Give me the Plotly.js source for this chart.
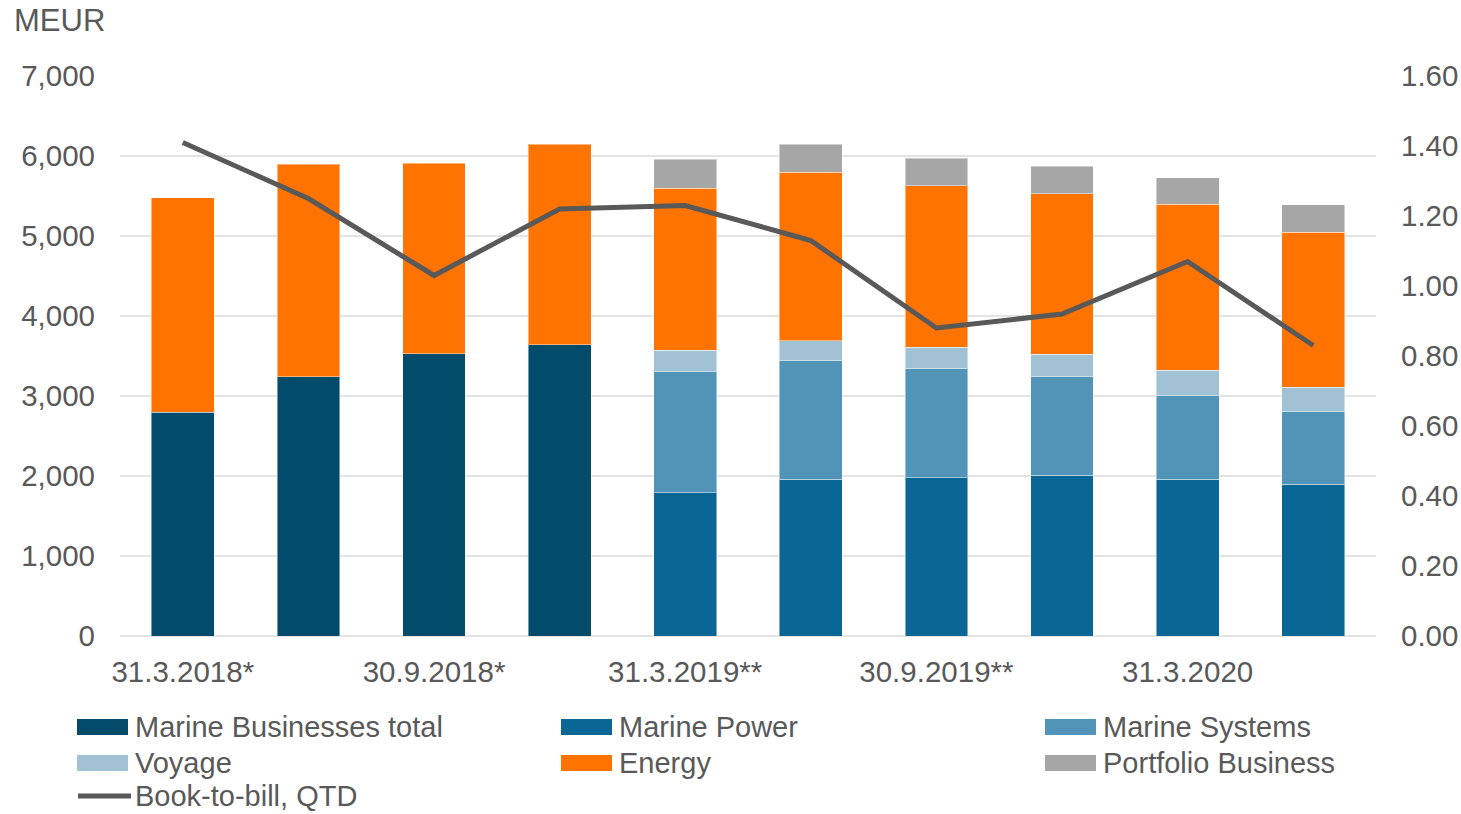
<!DOCTYPE html>
<html>
<head>
<meta charset="utf-8">
<script src="https://cdn.plot.ly/plotly-3.0.1.min.js"></script>
<style>
  html, body { margin: 0; padding: 0; background: #fff; }
  #chart { width: 1461px; height: 814px; }
</style>
</head>
<body>
<div id="chart"></div>
<script>
// Order intake by quarter (MEUR) and book-to-bill ratio
const quarters = ["31.3.2018*", "30.6.2018*", "30.9.2018*", "31.12.2018*", "31.3.2019**",
                  "30.6.2019**", "30.9.2019**", "31.12.2019", "31.3.2020", "30.6.2020"];
const labelledQuarters = ["31.3.2018*", "30.9.2018*", "31.3.2019**", "30.9.2019**", "31.3.2020"];

const marineTotal   = [2800, 3240, 3530, 3640, null, null, null, null, null, null];
const marinePower   = [null, null, null, null, 1790, 1960, 1980, 2010, 1960, 1900];
const marineSystems = [null, null, null, null, 1520, 1480, 1370, 1230, 1050, 910];
const voyage        = [null, null, null, null, 260, 250, 260, 280, 310, 300];
const energy        = [2680, 2660, 2380, 2510, 2030, 2110, 2020, 2010, 2080, 1940];
const portfolio     = [null, null, null, null, 360, 350, 340, 340, 330, 340];
const bookToBill    = [1.41, 1.25, 1.03, 1.22, 1.23, 1.13, 0.88, 0.92, 1.07, 0.83];

const FONT = "Liberation Sans, Arial, sans-serif";
const FS = 29.5;
const LEGEND_FS = 29;
const TEXT = "#595959";
const W = 1461, H = 814;
const M = { l: 120, r: 85, t: 76, b: 178 };

const barSeries = [
  { name: "Marine Businesses total", y: marineTotal,   color: "#034B6B" },
  { name: "Marine Power",            y: marinePower,   color: "#0A6694" },
  { name: "Marine Systems",          y: marineSystems, color: "#5294B7" },
  { name: "Voyage",                  y: voyage,        color: "#A0C2D4" },
  { name: "Energy",                  y: energy,        color: "#FF7300" },
  { name: "Portfolio Business",      y: portfolio,     color: "#A6A6A6" }
];
const lineSeries = { name: "Book-to-bill, QTD", y: bookToBill, color: "#595959" };

const traces = barSeries.map(s => ({
  type: "bar",
  name: s.name,
  x: quarters,
  y: s.y,
  marker: { color: s.color, line: { color: "rgba(255,255,255,0.45)", width: 1 } },
  hoverinfo: "skip"
}));
traces.push({
  type: "scatter",
  mode: "lines",
  name: lineSeries.name,
  x: quarters,
  y: lineSeries.y,
  yaxis: "y2",
  line: { color: lineSeries.color, width: 5, shape: "linear" },
  hoverinfo: "skip"
});

// Custom legend: three columns, wide colour keys
const plotW = W - M.l - M.r, plotH = H - M.t - M.b;
const px = x => (x - M.l) / plotW;
const py = y => (H - M.b - y) / plotH;
const colX = [77, 561, 1045];
const rowY = [727, 763, 796];
const shapes = [], annotations = [];
const legendEntries = barSeries.map(s => ({ name: s.name, color: s.color, kind: "bar" }))
  .concat([{ name: lineSeries.name, color: lineSeries.color, kind: "line" }]);
legendEntries.forEach((e, i) => {
  const cx = colX[i % 3], cy = rowY[Math.floor(i / 3)];
  if (e.kind === "bar") {
    shapes.push({
      type: "rect", xref: "paper", yref: "paper",
      xsizemode: "pixel", ysizemode: "pixel",
      xanchor: px(cx), yanchor: py(cy),
      x0: 0, x1: 51, y0: -8, y1: 8,
      fillcolor: e.color, line: { width: 0 }
    });
  } else {
    shapes.push({
      type: "line", xref: "paper", yref: "paper",
      xsizemode: "pixel", ysizemode: "pixel",
      xanchor: px(cx), yanchor: py(cy),
      x0: 1, x1: 54, y0: 0, y1: 0,
      line: { color: e.color, width: 5 }
    });
  }
  annotations.push({
    text: e.name, xref: "paper", yref: "paper",
    x: px(cx + 57), y: py(cy), xanchor: "left", yanchor: "middle",
    borderpad: 0,
    showarrow: false, font: { family: FONT, size: LEGEND_FS, color: TEXT }
  });
});

annotations.push({
  text: "MEUR", xref: "paper", yref: "paper",
  x: px(12), y: py(21), xanchor: "left", yanchor: "middle",
  showarrow: false, font: { family: FONT, size: 31, color: TEXT }
});

const layout = {
  width: W, height: H,
  margin: M,
  paper_bgcolor: "#ffffff",
  plot_bgcolor: "#ffffff",
  barmode: "stack",
  bargap: 0.5,
  showlegend: false,
  font: { family: FONT, size: FS, color: TEXT },
  xaxis: {
    type: "category",
    tickvals: labelledQuarters,
    ticktext: labelledQuarters,
    tickangle: 0,
    ticks: "",
    showgrid: false,
    showline: false,
    zeroline: false,
    ticklabelstandoff: 15,
    tickfont: { family: FONT, size: FS, color: TEXT }
  },
  yaxis: {
    range: [0, 7000],
    tickvals: [0, 1000, 2000, 3000, 4000, 5000, 6000, 7000],
    tickformat: ",d",
    showgrid: true,
    gridcolor: "#E4E4E4",
    gridwidth: 1.5,
    zeroline: true,
    zerolinecolor: "#E4E4E4",
    zerolinewidth: 1.5,
    showline: false,
    ticks: "",
    ticklabelstandoff: 24,
    tickfont: { family: FONT, size: FS, color: TEXT }
  },
  yaxis2: {
    overlaying: "y",
    side: "right",
    range: [0, 1.6],
    tickvals: [0, 0.2, 0.4, 0.6, 0.8, 1.0, 1.2, 1.4, 1.6],
    tickformat: ".2f",
    showgrid: false,
    zeroline: false,
    showline: false,
    ticks: "",
    ticklabelstandoff: 24,
    tickfont: { family: FONT, size: FS, color: TEXT }
  },
  shapes: shapes,
  annotations: annotations
};

Plotly.newPlot("chart", traces, layout, { staticPlot: true, displayModeBar: false });
</script>
</body>
</html>
